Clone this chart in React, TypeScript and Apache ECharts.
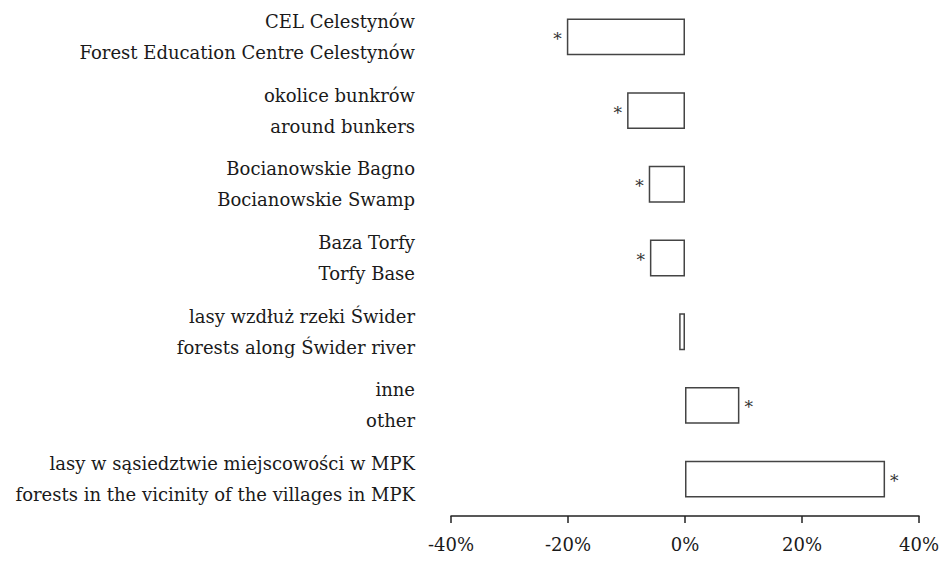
import React, { useEffect, useRef } from "react";
import * as echarts from "echarts";

const categoriesPl = [
  "CEL Celestynów",
  "okolice bunkrów",
  "Bocianowskie Bagno",
  "Baza Torfy",
  "lasy wzdłuż rzeki Świder",
  "inne",
  "lasy w sąsiedztwie miejscowości w MPK",
];
const categoriesEn = [
  "Forest Education Centre Celestynów",
  "around bunkers",
  "Bocianowskie Swamp",
  "Torfy Base",
  "forests along Świder river",
  "other",
  "forests in the vicinity of the villages in MPK",
];
const values = [-20.2, -9.9, -6.2, -6.0, -1.0, 9.3, 34.2];
const significant = [true, true, true, true, false, true, true];
const xTicks = [-40, -20, 0, 20, 40];

const SERIF = "DejaVu Serif";

export default function App() {
  const ref = useRef<HTMLDivElement>(null);
  useEffect(() => {
    document.body.style.margin = "0";
    const chart = echarts.init(ref.current!, null, { renderer: "svg" });
    const labels = categoriesPl.map((p, i) => p + "\n" + categoriesEn[i]);
    chart.setOption({
      animation: false,
      backgroundColor: "#ffffff",
      grid: { left: 451, right: 27, top: -1.5, bottom: 49, containLabel: false },
      xAxis: {
        type: "value",
        min: xTicks[0],
        max: xTicks[xTicks.length - 1],
        interval: 20,
        axisLine: { show: true, lineStyle: { color: "#222", width: 1.5 } },
        axisTick: { show: true, length: 7, lineStyle: { color: "#222", width: 1.5 } },
        splitLine: { show: false },
        axisLabel: {
          formatter: (v: number) => v + "%",
          fontFamily: SERIF,
          fontSize: 18,
          color: "#1a1a1a",
          margin: 19,
        },
      },
      yAxis: {
        type: "category",
        data: labels,
        inverse: true,
        axisLine: { show: false },
        axisTick: { show: false },
        axisLabel: {
          fontFamily: SERIF,
          fontSize: 18,
          lineHeight: 31,
          color: "#1a1a1a",
          margin: 36,
          align: "right",
        },
      },
      series: [
        {
          type: "bar",
          barWidth: "50%",
          data: values.map((v, i) => ({
            value: v,
            label: {
              show: significant[i],
              position: v < 0 ? "left" : "right",
              distance: 5,
              formatter: "*",
              fontFamily: SERIF,
              fontSize: 17,
              color: "#333",
              offset: [0, 2],
            },
          })),
          itemStyle: { color: "#ffffff", borderColor: "#444", borderWidth: 1.5 },
        },
      ],
    });
    return () => chart.dispose();
  }, []);
  return <div ref={ref} style={{ width: 946, height: 565 }} />;
}
